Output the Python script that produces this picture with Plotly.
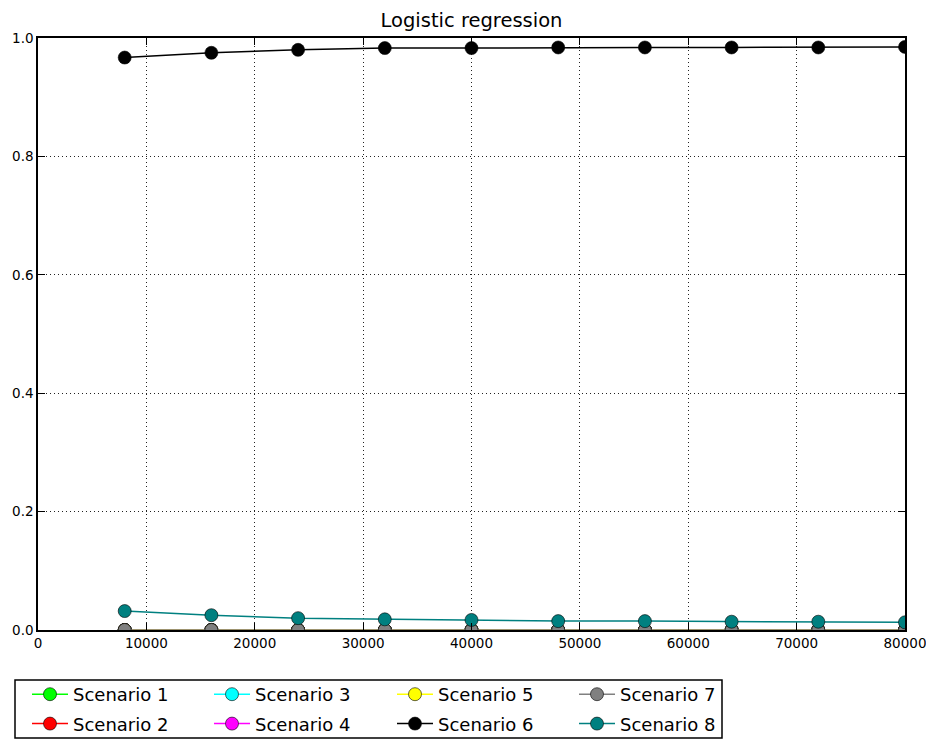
import plotly.graph_objects as go

# Training set sizes
sizes = [8000, 16000, 24000, 32000, 40000, 48000, 56000, 64000, 72000, 80000]

# Scores per scenario
scenario_1 = [0.0, 0.0, 0.0, 0.0, 0.0, 0.0, 0.0, 0.0, 0.0, 0.0]
scenario_2 = [0.0, 0.0, 0.0, 0.0, 0.0, 0.0, 0.0, 0.0, 0.0, 0.0]
scenario_3 = [0.0, 0.0, 0.0, 0.0, 0.0, 0.0, 0.0, 0.0, 0.0, 0.0]
scenario_4 = [0.0, 0.0, 0.0, 0.0, 0.0, 0.0, 0.0, 0.0, 0.0, 0.0]
scenario_5 = [0.0, 0.0, 0.0, 0.0, 0.0, 0.0, 0.0, 0.0, 0.0, 0.0]
scenario_6 = [0.967, 0.975, 0.980, 0.983, 0.983, 0.984, 0.984, 0.984, 0.984, 0.985]
scenario_7 = [0.0, 0.0, 0.0, 0.0, 0.0, 0.0, 0.0, 0.0, 0.0, 0.0]
scenario_8 = [0.032, 0.025, 0.020, 0.018, 0.017, 0.015, 0.015, 0.014, 0.014, 0.013]

names = ["Scenario 1", "Scenario 2", "Scenario 3", "Scenario 4",
         "Scenario 5", "Scenario 6", "Scenario 7", "Scenario 8"]
series = [scenario_1, scenario_2, scenario_3, scenario_4,
          scenario_5, scenario_6, scenario_7, scenario_8]
colors = ["#00ff00", "#ff0000", "#00ffff", "#ff00ff",
          "#ffff00", "#000000", "#808080", "#008080"]
# two entries per legend column
legend_ids = ["legend", "legend", "legend2", "legend2",
              "legend3", "legend3", "legend4", "legend4"]

FONT = "DejaVu Sans"
W, H = 926, 739
L, R, T, B = 38, 21, 38, 109
pw, ph = W - L - R, H - T - B

fig = go.Figure()
for name, ys, col, lg in zip(names, series, colors, legend_ids):
    fig.add_trace(go.Scatter(
        x=sizes, y=ys, name=name, mode="lines+markers",
        line=dict(color=col, width=1.5),
        marker=dict(color=col, size=13, line=dict(color="black", width=0.6)),
        legend=lg, legendgroup=name,
    ))

def px_x(p):
    return (p - L) / pw

def px_y(p):
    return (H - B - p) / ph

# legend columns, placed in container coordinates
col_left = [27, 209, 392, 574]
box_top = 676
legend_common = dict(
    font=dict(family=FONT, size=18, color="black"),
    bgcolor="rgba(0,0,0,0)", borderwidth=0,
    xref="container", yref="container",
    yanchor="top", xanchor="left", y=1 - box_top / H,
    tracegroupgap=3, itemwidth=36,
)
fig.update_layout(
    legend=dict(x=col_left[0] / W, **legend_common),
    legend2=dict(x=col_left[1] / W, **legend_common),
    legend3=dict(x=col_left[2] / W, **legend_common),
    legend4=dict(x=col_left[3] / W, **legend_common),
)

# legend frame
fig.add_shape(type="rect", xref="paper", yref="paper",
              x0=px_x(15), x1=px_x(722), y0=px_y(680), y1=px_y(738),
              line=dict(color="black", width=1.5), fillcolor="white",
              layer="below")

axis_common = dict(
    showline=True, linecolor="black", linewidth=1.5, mirror="ticks",
    ticks="inside", ticklen=7, tickcolor="black", tickwidth=1,
    showgrid=True, gridcolor="#222222", gridwidth=1, griddash="1px,3px",
    zeroline=False, ticklabeloverflow="allow",
    tickfont=dict(family=FONT, size=13.5, color="black"),
)

fig.update_xaxes(range=[0, 80000], dtick=10000, tick0=0, tickformat="d",
                 **axis_common)
fig.update_yaxes(range=[0, 1], dtick=0.2, tick0=0, tickformat=".1f",
                 **axis_common)

fig.update_layout(
    width=W, height=H,
    margin=dict(l=L, r=R, t=T, b=B, autoexpand=False),
    paper_bgcolor="white", plot_bgcolor="white",
    font=dict(family=FONT, color="black"),
    title=dict(text="Logistic regression", x=0.5, xref="paper",
               y=1 - 27 / H, yref="container", yanchor="bottom",
               font=dict(family=FONT, size=19.5, color="black")),
    showlegend=True,
)

fig.write_html("out.html")
